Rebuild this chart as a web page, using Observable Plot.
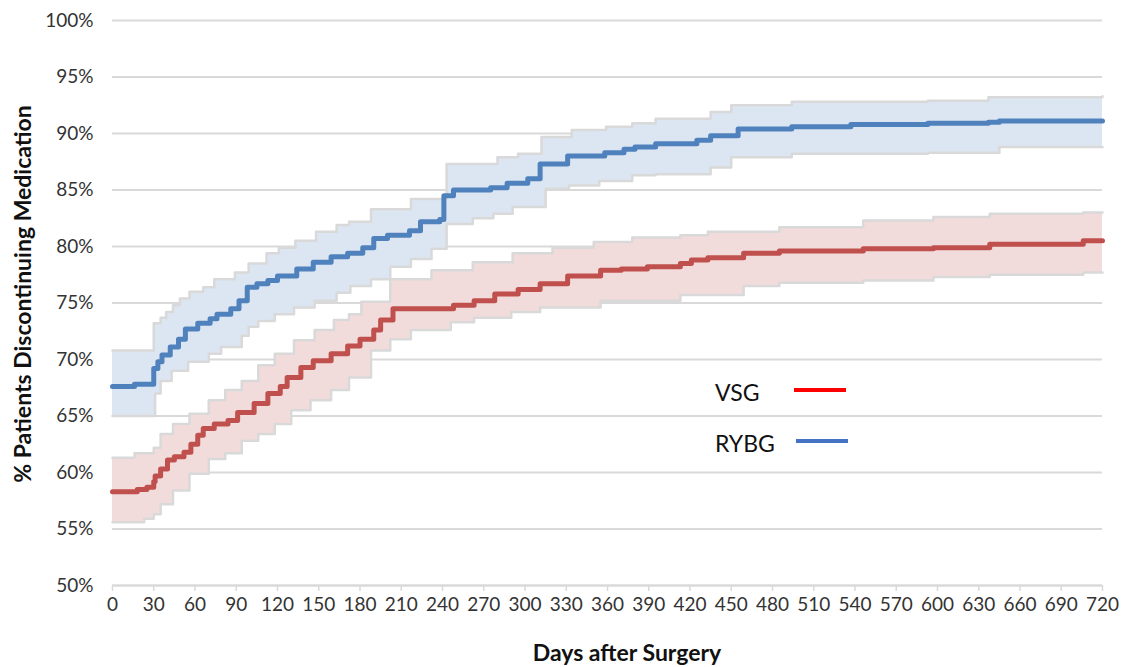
<!DOCTYPE html>
<html><head><meta charset="utf-8">
<script src="https://cdn.jsdelivr.net/npm/d3@7"></script>
<script src="https://cdn.jsdelivr.net/npm/@observablehq/plot@0.6"></script>
<style>
body{margin:0;background:#fff;}
#wrap{position:relative;width:1129px;height:667px;font-family:Lato,"Liberation Sans",sans-serif;overflow:hidden;}
.leg{position:absolute;font-size:23px;color:#111;line-height:1;}
.sw{position:absolute;height:4px;}
.ttl{position:absolute;font-weight:bold;font-size:23px;color:#111;white-space:nowrap;line-height:1;}
</style></head><body><div id="wrap"></div>
<script>
// ---------- data ----------
const xTicks = [0,30,60,90,120,150,180,210,240,270,300,330,360,390,420,450,480,510,540,570,600,630,660,690,720];
const yTicks = [50,55,60,65,70,75,80,85,90,95,100];

// RYBG (blue) estimate
const rybgDays = [0,16,30,33,36,42,48,53,62,71,76,86,92,98,105,113,120,134,146,159,171,182,190,200,216,224,238,241,248,275,287,302,311,331,358,372,380,395,425,435,455,494,537,593,637,645,720];
const rybgPct  = [67.6,67.8,69.2,69.8,70.4,71.1,71.8,72.7,73.2,73.6,74.0,74.5,75.2,76.4,76.7,77.0,77.4,78.0,78.6,79.1,79.4,79.9,80.7,81.0,81.4,82.2,82.4,84.5,85.0,85.2,85.6,86.0,87.3,88.0,88.3,88.6,88.8,89.1,89.4,89.8,90.4,90.6,90.8,90.9,91.0,91.1,91.1];
// RYBG confidence band
const rybgUpDays = [0,30,35,39,44,49,56,66,74,89,99,112,121,133,148,163,172,188,217,243,280,295,312,334,359,378,395,435,450,494,593,637,720];
const rybgUp     = [70.8,73.2,73.7,74.2,74.8,75.4,76.0,76.4,77.1,77.7,78.5,79.4,79.9,80.5,81.3,81.9,82.2,83.3,84.2,87.3,87.9,88.2,89.7,90.3,90.6,90.9,91.3,91.9,92.5,92.8,92.9,93.2,93.3];
const rybgLoDays = [0,31,35,43,55,70,79,94,99,106,118,132,147,163,173,188,202,217,232,243,262,277,291,315,332,354,378,395,435,450,494,593,645,720];
const rybgLo     = [65.0,67.0,68.1,69.0,69.8,70.5,71.1,72.1,72.9,73.4,74.0,74.6,75.2,75.9,76.5,77.1,78.2,78.9,79.8,82.0,82.5,82.9,83.5,85.1,85.4,85.8,86.3,86.4,87.0,87.9,88.2,88.3,88.8,88.8];

// VSG (red) estimate
const vsgDays = [0,18,25,30,31,35,40,45,52,57,62,66,74,84,91,103,113,122,127,137,146,159,171,180,190,195,204,248,263,278,295,311,331,355,370,389,413,421,433,459,485,546,597,638,706,720];
const vsgPct  = [58.3,58.5,58.7,59.2,59.7,60.3,61.1,61.4,61.8,62.5,63.3,63.9,64.3,64.6,65.3,66.1,67.0,67.6,68.4,69.3,69.9,70.5,71.2,71.8,72.6,73.5,74.5,74.8,75.2,75.8,76.2,76.7,77.4,77.9,78.0,78.2,78.5,78.8,79.0,79.4,79.6,79.8,79.9,80.2,80.5,80.5];
// VSG confidence band
const vsgUpDays = [0,16,30,35,44,56,70,82,94,106,118,132,147,161,172,181,202,232,262,291,320,350,378,413,433,485,546,597,638,706,720];
const vsgUp     = [61.3,61.7,62.2,63.4,64.3,65.2,66.4,67.3,68.1,69.5,70.5,71.7,72.6,73.5,74.0,75.1,77.1,77.9,78.6,79.4,79.9,80.4,80.8,81.0,81.3,81.7,82.3,82.6,82.9,83.0,83.0];
const vsgLoDays = [0,23,30,35,44,56,70,82,94,106,118,130,144,159,172,188,202,217,246,263,290,311,355,413,459,485,546,597,638,706,720];
const vsgLo     = [55.6,55.9,56.3,57.2,58.4,59.9,61.2,61.7,62.8,63.4,64.3,65.5,66.4,67.3,68.4,70.8,71.8,72.6,73.3,73.7,74.2,74.6,75.2,75.7,76.5,76.8,77.0,77.3,77.5,77.7,77.7];

const seriesNames = ["VSG","RYBG"];

// ---------- build tables ----------
const rows = (days, vals) => days.map((d,i) => ({day:d, pct:vals[i]}));
function stepAt(days, vals, d){ let v = vals[0]; for (let i=0;i<days.length;i++){ if (days[i] <= d) v = vals[i]; } return v; }
function band(upD, up, loD, lo){
  const all = Array.from(new Set([...upD, ...loD])).sort((a,b)=>a-b);
  return all.map(d => ({day:d, hi:stepAt(upD, up, d), lo:stepAt(loD, lo, d)}));
}
const rybgBand = band(rybgUpDays, rybgUp, rybgLoDays, rybgLo);
const vsgBand = band(vsgUpDays, vsgUp, vsgLoDays, vsgLo);

const edge = {x:"day", y:"pct", curve:"step-after", stroke:"#d9d9d9", strokeWidth:2.5};

const chart = Plot.plot({
  width:1129, height:667,
  marginLeft:112, marginRight:27, marginTop:20, marginBottom:82,
  style:{fontFamily:"Lato, 'Liberation Sans', sans-serif", fontSize:"19px", color:"#333", background:"white", overflow:"visible"},
  x:{domain:[0,720]},
  y:{domain:[50,100]},
  marks:[
    Plot.gridY(yTicks, {stroke:"#d9d9d9", strokeOpacity:1, strokeWidth:2}),
    Plot.areaY(rybgBand, {x:"day", y1:"lo", y2:"hi", curve:"step-after", fill:"#dce6f2"}),
    Plot.areaY(vsgBand, {x:"day", y1:"lo", y2:"hi", curve:"step-after", fill:"#f2dcdb"}),
    Plot.line(rows(rybgUpDays, rybgUp), edge),
    Plot.line(rows(rybgLoDays, rybgLo), edge),
    Plot.line(rows(vsgUpDays, vsgUp), edge),
    Plot.line(rows(vsgLoDays, vsgLo), edge),
    Plot.line(rows(vsgDays, vsgPct), {x:"day", y:"pct", curve:"step-after", stroke:"#c0504d", strokeWidth:5}),
    Plot.line(rows(rybgDays, rybgPct), {x:"day", y:"pct", curve:"step-after", stroke:"#4f81bd", strokeWidth:5}),
    Plot.axisX(xTicks, {tickSize:6, tickPadding:6, stroke:"#d9d9d9", strokeWidth:1.5, label:null, fill:"#333"}),
    Plot.axisY(yTicks, {tickSize:0, tickPadding:19, tickFormat:d => d + "%", label:null, fill:"#333"}),
    Plot.ruleY([50], {stroke:"#d9d9d9", strokeWidth:2})
  ]
});
const wrap = document.getElementById("wrap");
wrap.appendChild(chart);

// legend (HTML overlay)
const legColors = ["#ff0000", "#4472c4"];
const legTops = [381, 432];
seriesNames.forEach((n,i) => {
  const t = document.createElement("div"); t.className = "leg"; t.textContent = n;
  t.style.left = "715px"; t.style.top = legTops[i] + "px"; wrap.appendChild(t);
  const s = document.createElement("div"); s.className = "sw";
  s.style.left = (794 + i*2) + "px"; s.style.width = "52px"; s.style.top = (legTops[i] + 7) + "px";
  s.style.background = legColors[i]; wrap.appendChild(s);
});

// axis titles
const xt = document.createElement("div"); xt.className = "ttl"; xt.textContent = "Days after Surgery";
xt.style.left = "627px"; xt.style.top = "641px"; xt.style.transform = "translateX(-50%)"; wrap.appendChild(xt);
const yt = document.createElement("div"); yt.className = "ttl"; yt.textContent = "% Patients Discontinuing Medication";
yt.style.left = "22px"; yt.style.top = "294px"; yt.style.transform = "translate(-50%,-50%) rotate(-90deg)"; wrap.appendChild(yt);
</script>
</body></html>
